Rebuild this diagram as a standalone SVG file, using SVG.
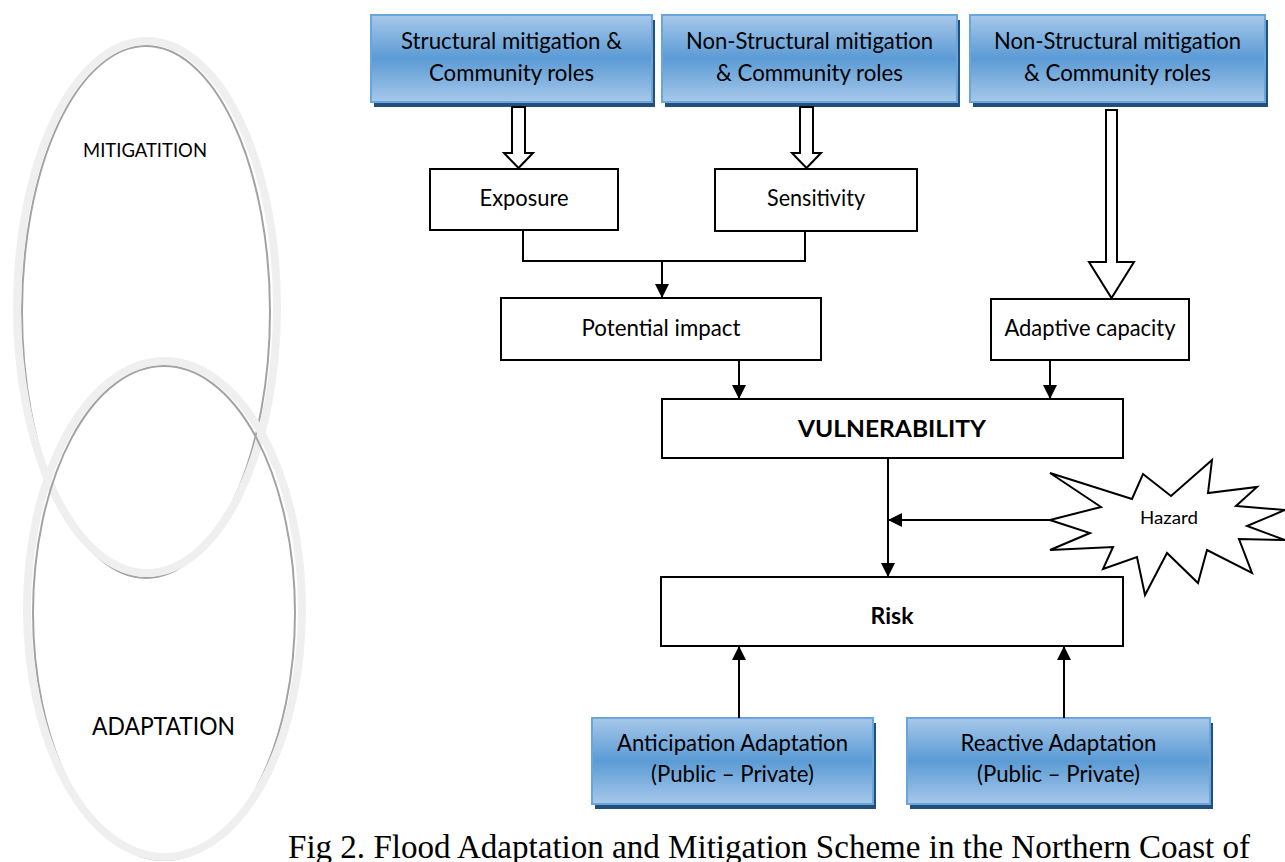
<svg xmlns="http://www.w3.org/2000/svg" width="1285" height="862" viewBox="0 0 1285 862">
<defs>
  <linearGradient id="blue" x1="0" y1="0" x2="0" y2="1">
    <stop offset="0" stop-color="#a7c8ea"/>
    <stop offset="0.5" stop-color="#5b9bd5"/>
    <stop offset="1" stop-color="#a7c8ea"/>
  </linearGradient>
  <marker id="ah" markerWidth="14" markerHeight="14" refX="14" refY="7" orient="auto" markerUnits="userSpaceOnUse">
    <path d="M0,0 L14,7 L0,14 Z" fill="#000"/>
  </marker>
</defs>
<style>
  .t{font-family:Lato,"Liberation Sans",sans-serif;font-size:23px;fill:#000;text-anchor:middle}
  .b{font-weight:bold;font-size:23px}
  .box{fill:#fff;stroke:#000;stroke-width:2}
  .blue{fill:url(#blue);stroke:#6aa5dc;stroke-width:2}
  .shadow{fill:#234f7d}
  .line{fill:none;stroke:#000;stroke-width:2}
  .arrow{fill:none;stroke:#000;stroke-width:2;marker-end:url(#ah)}
  .hollow{fill:#fff;stroke:#000;stroke-width:2}
  .ring{fill:none;stroke:#efefef;stroke-width:8}
  .ringd{fill:none;stroke:#a3a3a3;stroke-width:2}
  .cap{font-family:"Liberation Serif",serif;font-size:33px;fill:#000}
</style>
<rect width="1285" height="862" fill="#fff"/>

<g id="mitigation">
  <ellipse class="ringd" cx="146" cy="312" rx="124" ry="266"/>
  <ellipse class="ring" cx="147" cy="307" rx="130" ry="266"/>
  <text class="t" x="145" y="157" style="font-size:20px" textLength="124" lengthAdjust="spacingAndGlyphs">MITIGATITION</text>
</g>
<g id="adaptation">
  <ellipse class="ringd" cx="164" cy="613" rx="131" ry="247"/>
  <ellipse class="ring" cx="164.5" cy="609" rx="137.5" ry="248"/>
  <text class="t" x="163.5" y="735" style="font-size:25px" textLength="143" lengthAdjust="spacingAndGlyphs">ADAPTATION</text>
</g>

<g id="structural">
  <rect class="shadow" x="374" y="20" width="281" height="87"/>
  <rect class="blue" x="371" y="15" width="281" height="87"/>
  <text class="t" x="511.5" y="49" textLength="221" lengthAdjust="spacingAndGlyphs">Structural mitigation &amp;</text>
  <text class="t" x="511.5" y="81" textLength="165" lengthAdjust="spacingAndGlyphs">Community roles</text>
</g>
<g id="nonstructural1">
  <rect class="shadow" x="665" y="20" width="295" height="87"/>
  <rect class="blue" x="662" y="15" width="295" height="87"/>
  <text class="t" x="809.5" y="49" textLength="247" lengthAdjust="spacingAndGlyphs">Non-Structural mitigation</text>
  <text class="t" x="809.5" y="81" textLength="187" lengthAdjust="spacingAndGlyphs">&amp; Community roles</text>
</g>
<g id="nonstructural2">
  <rect class="shadow" x="973" y="20" width="295" height="87"/>
  <rect class="blue" x="970" y="15" width="295" height="87"/>
  <text class="t" x="1117.5" y="49" textLength="247" lengthAdjust="spacingAndGlyphs">Non-Structural mitigation</text>
  <text class="t" x="1117.5" y="81" textLength="187" lengthAdjust="spacingAndGlyphs">&amp; Community roles</text>
</g>

<g id="exposure">
  <rect class="box" x="430" y="169" width="188" height="61"/>
  <text class="t" x="524" y="206" textLength="89" lengthAdjust="spacingAndGlyphs">Exposure</text>
</g>
<g id="sensitivity">
  <rect class="box" x="715" y="169" width="202" height="62"/>
  <text class="t" x="816" y="206" textLength="98" lengthAdjust="spacingAndGlyphs">Sensitivity</text>
</g>
<g id="potential-impact">
  <rect class="box" x="501" y="298" width="320" height="62"/>
  <text class="t" x="661" y="336" textLength="159" lengthAdjust="spacingAndGlyphs">Potential impact</text>
</g>
<g id="adaptive-capacity">
  <rect class="box" x="991" y="299" width="198" height="61"/>
  <text class="t" x="1090" y="336" textLength="171" lengthAdjust="spacingAndGlyphs">Adaptive capacity</text>
</g>
<g id="vulnerability">
  <rect class="box" x="662" y="399" width="461" height="59"/>
  <text class="t b" x="892" y="437" textLength="188" lengthAdjust="spacingAndGlyphs">VULNERABILITY</text>
</g>
<g id="hazard">
  <polygon class="box" points="1050,520 1101,507 1050,473 1132,499 1143,474 1171,496 1212,460 1208,493 1257,487 1236,506 1285,510 1247,526 1285,540 1239,539 1252,573 1207,550 1198,583 1167,553 1145,595 1137,557 1103,569 1113,547 1050,550 1090,533"/>
  <text class="t" x="1169" y="524" style="font-size:18px" textLength="58" lengthAdjust="spacingAndGlyphs">Hazard</text>
</g>
<g id="risk">
  <rect class="box" x="661" y="577" width="462" height="69"/>
  <text class="t b" x="892" y="624">Risk</text>
</g>
<g id="anticipation">
  <rect class="shadow" x="595" y="723" width="281" height="86"/>
  <rect class="blue" x="592" y="718" width="281" height="86"/>
  <text class="t" x="732.5" y="751" textLength="231" lengthAdjust="spacingAndGlyphs">Anticipation Adaptation</text>
  <text class="t" x="732.5" y="782" textLength="163" lengthAdjust="spacingAndGlyphs">(Public – Private)</text>
</g>
<g id="reactive">
  <rect class="shadow" x="910" y="723" width="303" height="86"/>
  <rect class="blue" x="907" y="718" width="303" height="86"/>
  <text class="t" x="1058.5" y="751" textLength="196" lengthAdjust="spacingAndGlyphs">Reactive Adaptation</text>
  <text class="t" x="1058.5" y="782" textLength="163" lengthAdjust="spacingAndGlyphs">(Public – Private)</text>
</g>

<g id="connectors">
  <path class="hollow" d="M512,107 L525,107 L525,153 L533,153 L518.5,168 L504,153 L512,153 Z"/>
  <path class="hollow" d="M800,107 L813,107 L813,153 L821,153 L806.5,168 L792,153 L800,153 Z"/>
  <path class="hollow" d="M1106,110 L1117,110 L1117,262 L1134,262 L1111.5,298 L1089,262 L1106,262 Z"/>
  <polyline class="line" points="523,230 523,261 805,261 805,231"/>
  <line class="arrow" x1="662" y1="261" x2="662" y2="298"/>
  <line class="arrow" x1="739" y1="360" x2="739" y2="399"/>
  <line class="arrow" x1="1050" y1="360" x2="1050" y2="399"/>
  <line class="arrow" x1="888" y1="458" x2="888" y2="577"/>
  <line class="arrow" x1="1050" y1="520" x2="888" y2="520"/>
  <line class="arrow" x1="739" y1="718" x2="739" y2="646"/>
  <line class="arrow" x1="1064" y1="718" x2="1064" y2="646"/>
</g>

<text class="cap" x="288" y="858" textLength="962" lengthAdjust="spacingAndGlyphs">Fig 2. Flood Adaptation and Mitigation Scheme in the Northern Coast of</text>
</svg>
